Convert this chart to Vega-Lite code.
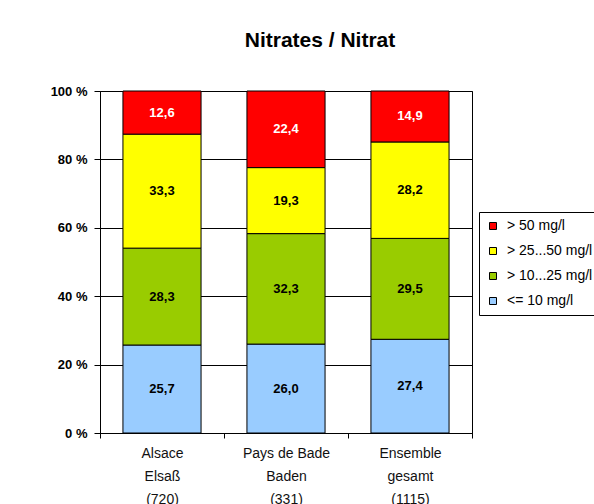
{
  "$schema": "https://vega.github.io/schema/vega-lite/v6.json",
  "width": 372,
  "height": 342,
  "autosize": "none",
  "padding": {"left": 100, "top": 91, "right": 122, "bottom": 71},
  "background": "white",
  "title": {
    "text": "Nitrates /  Nitrat",
    "fontSize": 21,
    "fontWeight": "bold",
    "font": "Liberation Sans",
    "color": "black",
    "frame": "group",
    "anchor": "middle",
    "dx": 34,
    "offset": 17,
    "baseline": "alphabetic"
  },
  "config": {
    "locale": {"number": {"decimal": ",", "thousands": ".", "grouping": [3], "currency": ["", " €"]}},
    "view": {"stroke": "black", "strokeWidth": 1},
    "font": "Liberation Sans"
  },
  "data": {
    "values": [
      {"cat": "Alsace|Elsaß|(720)", "cls": "<= 10 mg/l", "k": 1, "v": 25.7},
      {"cat": "Alsace|Elsaß|(720)", "cls": "> 10...25 mg/l", "k": 2, "v": 28.3},
      {"cat": "Alsace|Elsaß|(720)", "cls": "> 25...50 mg/l", "k": 3, "v": 33.3},
      {"cat": "Alsace|Elsaß|(720)", "cls": "> 50 mg/l", "k": 4, "v": 12.6},
      {"cat": "Pays de Bade|Baden|(331)", "cls": "<= 10 mg/l", "k": 1, "v": 26.0},
      {"cat": "Pays de Bade|Baden|(331)", "cls": "> 10...25 mg/l", "k": 2, "v": 32.3},
      {"cat": "Pays de Bade|Baden|(331)", "cls": "> 25...50 mg/l", "k": 3, "v": 19.3},
      {"cat": "Pays de Bade|Baden|(331)", "cls": "> 50 mg/l", "k": 4, "v": 22.4},
      {"cat": "Ensemble|gesamt|(1115)", "cls": "<= 10 mg/l", "k": 1, "v": 27.4},
      {"cat": "Ensemble|gesamt|(1115)", "cls": "> 10...25 mg/l", "k": 2, "v": 29.5},
      {"cat": "Ensemble|gesamt|(1115)", "cls": "> 25...50 mg/l", "k": 3, "v": 28.2},
      {"cat": "Ensemble|gesamt|(1115)", "cls": "> 50 mg/l", "k": 4, "v": 14.9}
    ]
  },
  "transform": [
    {"stack": "v", "groupby": ["cat"], "sort": [{"field": "k", "order": "ascending"}], "offset": "normalize", "as": ["y0", "y1"]},
    {"calculate": "(datum.y0 + datum.y1) / 2", "as": "ym"}
  ],
  "encoding": {
    "x": {
      "field": "cat",
      "type": "nominal",
      "sort": null,
      "scale": {"paddingInner": 0, "paddingOuter": 0},
      "axis": {
        "title": null,
        "labelAngle": 0,
        "labelExpr": "split(datum.label, '|')",
        "labelFontSize": 14,
        "labelLineHeight": 23,
        "labelColor": "#111",
        "labelPadding": 8,
        "tickBand": "extent",
        "tickSize": 5,
        "tickColor": "black",
        "domainColor": "black",
        "grid": false
      }
    }
  },
  "layer": [
    {
      "mark": {"type": "bar", "width": {"band": 0.63}, "stroke": "black", "strokeWidth": 1},
      "encoding": {
        "y": {
          "field": "y0",
          "type": "quantitative",
          "scale": {"domain": [0, 1]},
          "axis": {
            "title": null,
            "values": [0, 0.2, 0.4, 0.6, 0.8, 1],
            "labelExpr": "round(datum.value * 100) + ' %'",
            "labelFontWeight": "bold",
            "labelFontSize": 13,
            "labelColor": "black",
            "labelPadding": 7,
            "tickSize": 6,
            "tickColor": "black",
            "domainColor": "black",
            "grid": true,
            "gridColor": "black",
            "gridWidth": 1
          }
        },
        "y2": {"field": "y1"},
        "color": {
          "field": "cls",
          "type": "nominal",
          "scale": {
            "domain": ["> 50 mg/l", "> 25...50 mg/l", "> 10...25 mg/l", "<= 10 mg/l"],
            "range": ["#FF0000", "#FFFF00", "#99CC00", "#99CCFF"]
          },
          "legend": {
            "title": null,
            "orient": "none",
            "legendX": 379,
            "legendY": 121,
            "strokeColor": "black",
            "fillColor": "white",
            "padding": 7,
            "symbolType": "square",
            "symbolSize": 49,
            "symbolStrokeColor": "black",
            "symbolStrokeWidth": 1,
            "symbolOpacity": 1,
            "labelFontSize": 14,
            "labelColor": "black",
            "labelOffset": 7,
            "labelLimit": 300,
            "rowPadding": 11
          }
        }
      }
    },
    {
      "mark": {"type": "text", "fontWeight": "bold", "fontSize": 13},
      "encoding": {
        "y": {"field": "ym", "type": "quantitative"},
        "text": {"field": "v", "type": "quantitative", "format": ".1f"},
        "color": {"condition": {"test": "datum.cls === '> 50 mg/l'", "value": "white"}, "value": "black"}
      }
    }
  ]
}
